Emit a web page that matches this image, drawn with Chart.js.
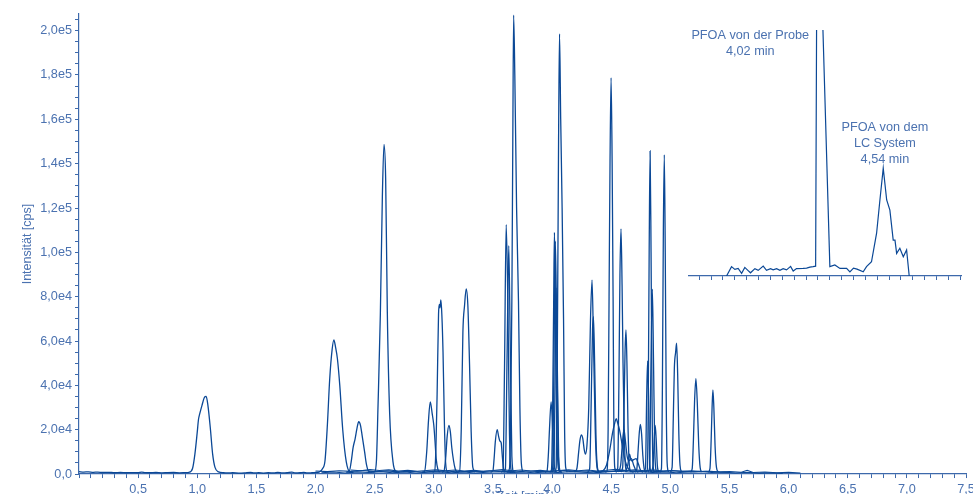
<!DOCTYPE html>
<html>
<head>
<meta charset="utf-8">
<title>Chromatogramm</title>
<script src="https://cdn.jsdelivr.net/npm/chart.js@4.4.1/dist/chart.umd.min.js"></script>
<style>
  html, body { margin: 0; padding: 0; background: #fff; overflow: hidden; }
  #main { position: absolute; left: 0; top: 0; width: 980px; height: 508px; }
  #inset { position: absolute; left: 688px; top: 30px; width: 274px; height: 250px; }
</style>
</head>
<body>
<div id="main"><canvas id="chromChart"></canvas></div>
<div id="inset"><canvas id="insetChart"></canvas></div>
<script>
// axis labels
const timeLabelValues = [0.5, 1.0, 1.5, 2.0, 2.5, 3.0, 3.5, 4.0, 4.5, 5.0, 5.5, 6.0, 6.5, 7.0, 7.5]
const timeLabels = ["0,5", "1,0", "1,5", "2,0", "2,5", "3,0", "3,5", "4,0", "4,5", "5,0", "5,5", "6,0", "6,5", "7,0", "7,5"]
const intensityLabelValues = [0, 20000, 40000, 60000, 80000, 100000, 120000, 140000, 160000, 180000, 200000]
const intensityLabels = ["0,0", "2,0e4", "4,0e4", "6,0e4", "8,0e4", "1,0e5", "1,2e5", "1,4e5", "1,6e5", "1,8e5", "2,0e5"]

// retention time [min], intensity [cps]
const traceA = [
  [0, 1100], [0.04, 900], [0.08, 1000], [0.12, 800], [0.16, 900], [0.2, 700], [0.25, 800], [0.3, 600],
  [0.35, 700], [0.4, 600], [0.45, 650], [0.5, 600], [0.53, 900], [0.56, 650], [0.6, 600], [0.65, 700],
  [0.7, 550], [0.75, 650], [0.8, 700], [0.85, 550], [0.9, 650], [0.93, 800],
  [0.96, 2500], [0.98, 9000], [1.0, 19000], [1.01, 24500], [1.02, 27000], [1.04, 31000], [1.06, 34500],
  [1.075, 35000], [1.09, 31000], [1.11, 21000], [1.13, 9000], [1.15, 3000], [1.18, 1000],
  [1.22, 600], [1.26, 500], [1.3, 600], [1.35, 450], [1.4, 550], [1.45, 800], [1.48, 500], [1.52, 600],
  [1.56, 450], [1.6, 600], [1.65, 500], [1.68, 800], [1.72, 500], [1.76, 600], [1.8, 900], [1.83, 500],
  [1.87, 600], [1.9, 800], [1.93, 500], [1.97, 600], [2.0, 700],
  [2.03, 900], [2.06, 2500], [2.08, 6000], [2.10, 22000], [2.12, 43000], [2.14, 56000], [2.155, 60500],
  [2.17, 57000], [2.185, 52000], [2.205, 40000], [2.23, 20000], [2.26, 5500], [2.29, 1000], [2.32, 800],
]

const baseB = [
  [2.0, 1400], [2.1, 1100], [2.2, 1500], [2.3, 1200], [2.4, 1600], [2.5, 1100], [2.6, 1400], [2.7, 1000],
  [2.8, 1300], [2.9, 900], [3.0, 1200], [3.1, 1400], [3.2, 1000], [3.3, 1300], [3.4, 1100], [3.5, 1500],
  [3.6, 1200], [3.7, 1000], [3.8, 1400], [3.9, 1100], [4.0, 1300], [4.1, 1600], [4.2, 1200], [4.3, 1400],
  [4.4, 1000], [4.5, 1300], [4.6, 1700], [4.7, 1200], [4.8, 1400], [4.9, 1100], [5.0, 1500], [5.1, 1200],
  [5.2, 1000], [5.3, 1300], [5.4, 900], [5.5, 1100], [5.6, 800], [5.65, 1700], [5.7, 700], [5.8, 900],
  [5.9, 600], [6.0, 800], [6.1, 500],
]
const baseC = [
  [2.05, 600], [2.15, 900], [2.25, 500], [2.35, 1000], [2.45, 700], [2.55, 1100], [2.65, 600], [2.75, 900],
  [2.85, 500], [2.95, 800], [3.05, 1000], [3.15, 600], [3.25, 900], [3.35, 500], [3.45, 800], [3.55, 1100],
  [3.65, 700], [3.75, 900], [3.85, 600], [3.95, 1000], [4.05, 700], [4.15, 1100], [4.25, 800], [4.35, 600],
  [4.45, 1000], [4.55, 1300], [4.65, 900], [4.75, 1100], [4.85, 700], [4.95, 1000], [5.05, 600], [5.15, 900],
  [5.25, 1200], [5.35, 700], [5.45, 900], [5.55, 500], [5.65, 800], [5.75, 400], [5.85, 600], [5.95, 300],
]
const baseD = [
  [2.3, 1800], [2.38, 1500], [2.46, 2000], [2.54, 1600], [2.62, 1900], [2.7, 1400], [2.78, 1700], [2.86, 1300],
  [2.94, 1600], [3.02, 1900], [3.1, 1500], [3.18, 1800], [3.26, 1400], [3.34, 1700], [3.42, 1300], [3.5, 1600],
  [3.58, 2000], [3.66, 1500], [3.74, 1800], [3.82, 1400], [3.9, 1700], [3.98, 1300], [4.06, 1600], [4.14, 1900],
  [4.22, 1500], [4.3, 1800], [4.38, 1400], [4.46, 1700], [4.54, 2100], [4.62, 1600], [4.7, 1900], [4.78, 1500],
  [4.86, 1800], [4.94, 1400], [5.02, 1600], [5.1, 1300], [5.18, 1500], [5.26, 1100], [5.34, 1300], [5.42, 900],
  [5.5, 700],
]

const p03 = [[2.26, 900], [2.285, 1200], [2.30, 5000], [2.318, 12000], [2.335, 16000], [2.35, 20500], [2.365, 23600], [2.38, 22000], [2.395, 17000], [2.415, 10000], [2.43, 4500], [2.45, 1200], [2.48, 900]]
const p04 = [[2.48, 900], [2.50, 1100], [2.515, 6000], [2.528, 30000], [2.548, 72000], [2.565, 125000], [2.579, 148700], [2.593, 133000], [2.607, 73000], [2.627, 27000], [2.655, 5500], [2.68, 1200], [2.71, 900]]
const p05 = [[2.90, 900], [2.922, 1200], [2.94, 10000], [2.955, 24000], [2.97, 32600], [2.987, 27000], [3.0, 22000], [3.01, 15000], [3.02, 7000], [3.035, 2000], [3.05, 900]]
const p06 = [[2.99, 900], [3.007, 1200], [3.018, 12000], [3.028, 36000], [3.04, 72000], [3.046, 76500], [3.052, 75000], [3.06, 78500], [3.068, 72000], [3.078, 55000], [3.09, 22000], [3.10, 5000], [3.115, 1000], [3.13, 900]]
const p07 = [[3.07, 900], [3.085, 1200], [3.10, 7000], [3.113, 17000], [3.128, 22000], [3.14, 19000], [3.152, 12000], [3.167, 6000], [3.18, 2500], [3.195, 1000], [3.21, 900]]
const p08 = [[3.20, 900], [3.218, 1200], [3.232, 20000], [3.246, 64000], [3.26, 76000], [3.274, 83500], [3.288, 76000], [3.302, 50000], [3.316, 19000], [3.33, 3000], [3.35, 900]]
const p09 = [[3.48, 900], [3.50, 1500], [3.51, 7000], [3.52, 14500], [3.536, 20000], [3.548, 17000], [3.558, 15000], [3.57, 14000], [3.578, 9000], [3.588, 3000], [3.60, 900]]
const p10 = [[3.57, 900], [3.585, 1500], [3.598, 48000], [3.612, 112500], [3.626, 78000], [3.64, 18000], [3.655, 1500], [3.67, 900]]
const p11 = [[3.59, 900], [3.605, 2000], [3.62, 55000], [3.634, 103000], [3.646, 60000], [3.66, 8000], [3.675, 1000], [3.69, 900]]
const p12 = [[3.62, 900], [3.64, 2500], [3.65, 25000], [3.66, 78000], [3.668, 150000], [3.675, 207000], [3.685, 180000], [3.70, 120000], [3.716, 78000], [3.728, 30000], [3.74, 5000], [3.755, 1000]]
const p13 = [[3.94, 900], [3.958, 1500], [3.968, 8000], [3.978, 20000], [3.992, 32600], [4.006, 19000], [4.016, 6000], [4.026, 1500], [4.04, 900]]
const p14 = [[3.98, 900], [3.995, 2000], [4.005, 30000], [4.014, 80000], [4.02, 109000], [4.028, 80000], [4.038, 30000], [4.05, 4000], [4.065, 900]]
const p15 = [[3.99, 900], [4.005, 3000], [4.015, 45000], [4.028, 105000], [4.04, 60000], [4.052, 10000], [4.065, 1200], [4.08, 900]]
const p16 = [[4.0, 900], [4.015, 3000], [4.025, 40000], [4.034, 84000], [4.044, 50000], [4.056, 8000], [4.07, 1200], [4.085, 900]]
const p17 = [[4.02, 900], [4.035, 3000], [4.045, 60000], [4.055, 150000], [4.063, 198500], [4.073, 160000], [4.085, 120000], [4.097, 70000], [4.106, 20000], [4.115, 3000], [4.13, 900]]
const p18 = [[4.19, 900], [4.21, 2500], [4.225, 10000], [4.235, 15000], [4.247, 17700], [4.26, 16000], [4.272, 11000], [4.282, 9000], [4.295, 13000], [4.31, 30000], [4.325, 70000], [4.338, 87500], [4.35, 60000], [4.365, 20000], [4.38, 3000], [4.395, 900]]
const p19 = [[4.30, 900], [4.318, 2500], [4.33, 30000], [4.342, 65000], [4.35, 71000], [4.36, 50000], [4.372, 15000], [4.385, 2500], [4.40, 900]]
const p20 = [[4.45, 900], [4.465, 1500], [4.474, 20000], [4.482, 80000], [4.49, 140000], [4.499, 178700], [4.508, 140000], [4.516, 80000], [4.522, 25000], [4.53, 3000], [4.545, 900]]
const p21 = [[4.40, 900], [4.43, 1500], [4.46, 4000], [4.485, 10000], [4.513, 19000], [4.53, 23000], [4.542, 25000], [4.555, 23000], [4.57, 20000], [4.59, 14000], [4.61, 8000], [4.63, 4000], [4.66, 1500], [4.69, 900]]
const p22 = [[4.54, 900], [4.555, 2500], [4.565, 40000], [4.574, 90000], [4.583, 110600], [4.592, 85000], [4.60, 50000], [4.61, 20000], [4.62, 4000], [4.635, 900]]
const p23 = [[4.58, 900], [4.597, 3000], [4.607, 25000], [4.617, 55000], [4.625, 65000], [4.633, 50000], [4.642, 22000], [4.652, 5000], [4.665, 900]]
const p24 = [[4.56, 900], [4.58, 4000], [4.595, 14000], [4.608, 20000], [4.62, 15000], [4.635, 8000], [4.65, 6000], [4.67, 7000], [4.69, 4000], [4.71, 1500], [4.73, 900]]
const p25 = [[4.62, 900], [4.64, 4000], [4.655, 9000], [4.67, 6000], [4.69, 6500], [4.71, 7000], [4.73, 4500], [4.75, 1500], [4.77, 900]]
const p26 = [[4.70, 900], [4.716, 2000], [4.728, 11000], [4.738, 19000], [4.747, 22400], [4.757, 18000], [4.768, 8000], [4.78, 2000], [4.795, 900]]
const p27 = [[4.79, 900], [4.805, 2000], [4.813, 30000], [4.821, 100000], [4.829, 145700], [4.837, 100000], [4.845, 35000], [4.853, 5000], [4.865, 900]]
const p28 = [[4.775, 900], [4.79, 3000], [4.80, 35000], [4.808, 51000], [4.816, 35000], [4.825, 6000], [4.835, 900]]
const p29 = [[4.81, 900], [4.825, 3000], [4.835, 45000], [4.848, 83400], [4.858, 50000], [4.868, 12000], [4.88, 1500], [4.89, 900]]
const p30 = [[4.84, 900], [4.855, 5000], [4.865, 17000], [4.872, 22000], [4.88, 16000], [4.89, 4000], [4.90, 900]]
const p31 = [[4.91, 900], [4.925, 2500], [4.933, 40000], [4.941, 110000], [4.949, 144000], [4.957, 100000], [4.965, 35000], [4.973, 5000], [4.985, 900]]
const p32 = [[5.00, 900], [5.015, 3000], [5.025, 25000], [5.034, 47800], [5.045, 55000], [5.053, 59000], [5.062, 45000], [5.072, 18000], [5.082, 4000], [5.095, 900]]
const p33 = [[5.17, 900], [5.185, 2500], [5.195, 15000], [5.205, 33000], [5.216, 43000], [5.228, 32000], [5.24, 13000], [5.252, 3000], [5.265, 900]]
const p34 = [[5.32, 900], [5.335, 2500], [5.345, 15000], [5.353, 30000], [5.36, 38000], [5.368, 30000], [5.378, 13000], [5.39, 3000], [5.405, 900]]

// inset: PFOA trace, relative intensity (100 = top of inset)
const insetTimes = [
  3.23, 3.272, 3.30, 3.328, 3.357, 3.384, 3.412, 3.432, 3.469, 3.497, 3.539, 3.567, 3.601, 3.623, 3.652, 3.68,
  3.707, 3.736, 3.77, 3.792, 3.82, 3.876, 3.905, 3.933, 3.96, 3.981, 3.989, 4.02, 4.042, 4.101, 4.143, 4.186,
  4.242, 4.27, 4.30, 4.33, 4.382, 4.41, 4.452, 4.495, 4.523, 4.551, 4.58, 4.607, 4.635, 4.65, 4.664, 4.691,
  4.72, 4.748, 4.77,
]
const insetValues = [
  0, 3.8, 2.7, 3.1, 1.1, 3.5, 2.2, 1.3, 3.0, 2.3, 4.0, 2.3, 3.0, 2.5, 3.0, 2.3,
  3.0, 2.5, 3.9, 2.0, 3.0, 3.1, 3.2, 3.6, 3.8, 4.0, 101, 300, 101, 3.8, 4.5, 3.1,
  3.1, 1.7, 3.2, 2.8, 1.7, 3.8, 5.8, 17.4, 30.9, 43.8, 30.9, 26.8, 14.6, 14.6, 9.2, 11.3,
  7.8, 10.6, 0,
]

const baselineTraces = [baseB, baseC, baseD]
const peakTraces = [traceA, p03, p04, p05, p06, p07, p08, p09, p10, p11, p12, p13, p14, p15, p16, p17,
  p18, p19, p20, p21, p22, p23, p24, p25, p26, p27, p28, p29, p30, p31, p32, p33, p34]

const annotations = [
  { at: 3.43, top: 5, lines: ["PFOA von der Probe", "4,02 min"] },
  { at: 4.565, top: 97.5, lines: ["PFOA von dem", "LC System", "4,54 min"] },
]

const axisColor = "#3d69ab"
const labelColor = "#4b72b0"
const lineColor = "#0b4896"
const fontFamily = "'Liberation Sans', Arial, sans-serif"
const fontSize = 12.7

// minor tick marks: every 0.1 min and every 5000 cps
const timeTicks = []
for (let k = 0; k <= 75; k++) timeTicks.push(k / 10)
const insetTicks = []
for (let k = 30; k <= 52; k++) insetTicks.push(k / 10)
const intensityTicks = []
for (let k = 0; k <= 41; k++) intensityTicks.push(k * 5000)

function toPoints(arr) {
  return arr.map(([x, y]) => ({ x, y }))
}

function labelFor(v, values, labels) {
  const i = values.findIndex((t) => Math.abs(t - v) < 1e-6)
  return i >= 0 ? labels[i] : ""
}

function setTicks(values) {
  return (scale) => { scale.ticks = values.map((v) => ({ value: v })) }
}

const datasets = []
baselineTraces.forEach((tr) => {
  datasets.push({ data: toPoints(tr), borderColor: lineColor, borderWidth: 1.1, pointRadius: 0, fill: false, tension: 0 })
})
peakTraces.forEach((tr) => {
  datasets.push({ data: toPoints(tr), borderColor: lineColor, borderWidth: 1.3, pointRadius: 0, fill: false, cubicInterpolationMode: "monotone" })
})

new Chart(document.getElementById("chromChart"), {
  type: "line",
  data: { datasets },
  options: {
    animation: false,
    responsive: true,
    maintainAspectRatio: false,
    layout: { padding: { top: 14, right: 14, left: 0, bottom: 0 } },
    plugins: { legend: { display: false }, tooltip: { enabled: false } },
    scales: {
      x: {
        type: "linear",
        min: 0,
        max: 7.5,
        afterBuildTicks: setTicks(timeTicks),
        border: { color: axisColor, width: 1.2 },
        grid: { drawOnChartArea: false, drawTicks: true, tickLength: 4, tickColor: axisColor },
        ticks: {
          autoSkip: false,
          maxRotation: 0,
          padding: 5,
          color: labelColor,
          font: { family: fontFamily, size: fontSize, lineHeight: 1 },
          callback: (v) => labelFor(v, timeLabelValues, timeLabels),
        },
        title: {
          display: true,
          text: "Zeit [min]",
          color: labelColor,
          font: { family: fontFamily, size: fontSize },
          padding: { top: -12, bottom: 4 },
        },
      },
      y: {
        min: 0,
        max: 207500,
        afterBuildTicks: setTicks(intensityTicks),
        afterFit: (scale) => { scale.width = 79 },
        border: { color: axisColor, width: 1.2 },
        grid: { drawOnChartArea: false, drawTicks: true, tickLength: 4, tickColor: axisColor },
        ticks: {
          autoSkip: false,
          padding: 3,
          color: labelColor,
          font: { family: fontFamily, size: fontSize },
          callback: (v) => labelFor(v, intensityLabelValues, intensityLabels),
        },
        title: {
          display: true,
          text: "Intensität [cps]",
          color: labelColor,
          font: { family: fontFamily, size: 12.5 },
          padding: { top: 20, bottom: 0 },
        },
      },
    },
  },
})

const insetLabels = {
  id: "insetLabels",
  afterDraw(chart) {
    const { ctx, chartArea } = chart
    const x = chart.scales.x
    ctx.save()
    ctx.fillStyle = labelColor
    ctx.font = fontSize + "px " + fontFamily
    ctx.textAlign = "center"
    ctx.textBaseline = "middle"
    annotations.forEach((a) => {
      a.lines.forEach((line, i) => {
        ctx.fillText(line, x.getPixelForValue(a.at), chartArea.top + a.top + i * 16)
      })
    })
    ctx.restore()
  },
}

new Chart(document.getElementById("insetChart"), {
  type: "line",
  data: {
    datasets: [{
      data: insetTimes.map((t, i) => ({ x: t, y: insetValues[i] })),
      borderColor: lineColor,
      borderWidth: 1.2,
      pointRadius: 0,
      fill: false,
      tension: 0,
    }],
  },
  options: {
    animation: false,
    responsive: true,
    maintainAspectRatio: false,
    layout: { padding: 0 },
    plugins: { legend: { display: false }, tooltip: { enabled: false } },
    scales: {
      x: {
        type: "linear",
        min: 2.905,
        max: 5.215,
        afterBuildTicks: setTicks(insetTicks),
        border: { color: axisColor, width: 1.2 },
        grid: { drawOnChartArea: false, drawTicks: true, tickLength: 4, tickColor: axisColor },
        ticks: { display: false, autoSkip: false },
      },
      y: { display: false, min: 0, max: 100 },
    },
  },
  plugins: [insetLabels],
})
</script>
</body>
</html>
